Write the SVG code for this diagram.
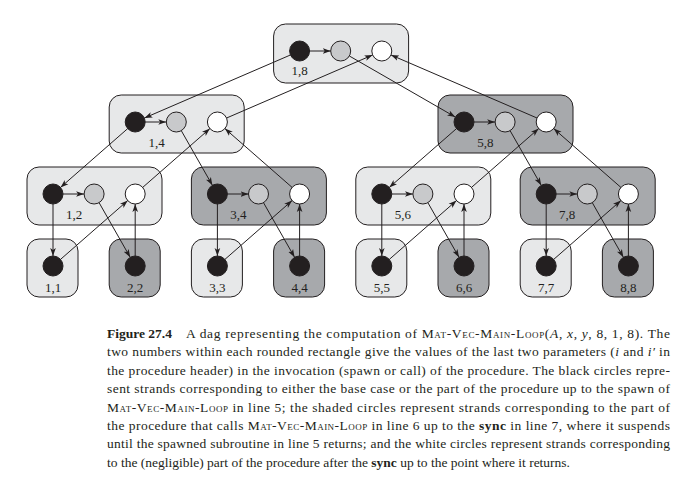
<svg xmlns="http://www.w3.org/2000/svg" width="679" height="486" viewBox="0 0 679 486">
<style>
.lt{fill:#e7e8e9;stroke:#231f20;stroke-width:1}
.dk{fill:#a7a9ac;stroke:#231f20;stroke-width:1}
.b{fill:#231f20;stroke:#231f20;stroke-width:1}
.g{fill:#c8c9cb;stroke:#231f20;stroke-width:1}
.w{fill:#ffffff;stroke:#231f20;stroke-width:1}
.lbl{font-family:"Liberation Serif","Times New Roman",serif;font-size:13px;fill:#231f20;text-anchor:middle}
.cap{font-family:"Liberation Serif","Times New Roman",serif;font-size:13.5px;fill:#231f20}
.e line{stroke:#231f20;stroke-width:1;marker-end:url(#ah)}
</style>
<defs>
<marker id="ah" viewBox="0 0 10 8" refX="10" refY="4" markerWidth="8" markerHeight="6.4" markerUnits="userSpaceOnUse" orient="auto">
<path d="M0,0.5 L10,4 L0,7.5 L2.5,4 z" fill="#231f20"/>
</marker>
</defs>
<g id="n18"><rect class="lt" x="273.6" y="24" width="135" height="59" rx="12"/><circle class="b" cx="299.6" cy="51" r="10"/><circle class="g" cx="340.7" cy="51" r="10"/><circle class="w" cx="381.8" cy="51" r="10"/><text class="lbl" x="299.6" y="75">1,8</text></g>
<g id="n14"><rect class="lt" x="109.2" y="95" width="135" height="58" rx="12"/><circle class="b" cx="135.2" cy="122" r="10"/><circle class="g" cx="176.3" cy="122" r="10"/><circle class="w" cx="217.4" cy="122" r="10"/><text class="lbl" x="156.5" y="147">1,4</text></g>
<g id="n58"><rect class="dk" x="438" y="95" width="135" height="58" rx="12"/><circle class="b" cx="464" cy="122" r="10"/><circle class="g" cx="505.1" cy="122" r="10"/><circle class="w" cx="546.2" cy="122" r="10"/><text class="lbl" x="485.3" y="147">5,8</text></g>
<g id="n12"><rect class="lt" x="27" y="167" width="135" height="58" rx="12"/><circle class="b" cx="53" cy="194" r="10"/><circle class="g" cx="94.1" cy="194" r="10"/><circle class="w" cx="135.2" cy="194" r="10"/><text class="lbl" x="74" y="219">1,2</text></g>
<g id="n34"><rect class="dk" x="191.4" y="167" width="135" height="58" rx="12"/><circle class="b" cx="217.4" cy="194" r="10"/><circle class="g" cx="258.5" cy="194" r="10"/><circle class="w" cx="299.6" cy="194" r="10"/><text class="lbl" x="238.4" y="219">3,4</text></g>
<g id="n56"><rect class="lt" x="355.8" y="167" width="135" height="58" rx="12"/><circle class="b" cx="381.8" cy="194" r="10"/><circle class="g" cx="422.9" cy="194" r="10"/><circle class="w" cx="464" cy="194" r="10"/><text class="lbl" x="402.8" y="219">5,6</text></g>
<g id="n78"><rect class="dk" x="520.2" y="167" width="135" height="58" rx="12"/><circle class="b" cx="546.2" cy="194" r="10"/><circle class="g" cx="587.3" cy="194" r="10"/><circle class="w" cx="628.4" cy="194" r="10"/><text class="lbl" x="567.2" y="219">7,8</text></g>
<g id="n11"><rect class="lt" x="27" y="239" width="51" height="58" rx="12"/><circle class="b" cx="53" cy="266" r="10"/><text class="lbl" x="53" y="292">1,1</text></g>
<g id="n22"><rect class="dk" x="109.2" y="239" width="51" height="58" rx="12"/><circle class="b" cx="135.2" cy="266" r="10"/><text class="lbl" x="135.2" y="292">2,2</text></g>
<g id="n33"><rect class="lt" x="191.4" y="239" width="51" height="58" rx="12"/><circle class="b" cx="217.4" cy="266" r="10"/><text class="lbl" x="217.4" y="292">3,3</text></g>
<g id="n44"><rect class="dk" x="273.6" y="239" width="51" height="58" rx="12"/><circle class="b" cx="299.6" cy="266" r="10"/><text class="lbl" x="299.6" y="292">4,4</text></g>
<g id="n55"><rect class="lt" x="355.8" y="239" width="51" height="58" rx="12"/><circle class="b" cx="381.8" cy="266" r="10"/><text class="lbl" x="381.8" y="292">5,5</text></g>
<g id="n66"><rect class="dk" x="438" y="239" width="51" height="58" rx="12"/><circle class="b" cx="464" cy="266" r="10"/><text class="lbl" x="464" y="292">6,6</text></g>
<g id="n77"><rect class="lt" x="520.2" y="239" width="51" height="58" rx="12"/><circle class="b" cx="546.2" cy="266" r="10"/><text class="lbl" x="546.2" y="292">7,7</text></g>
<g id="n88"><rect class="dk" x="602.4" y="239" width="51" height="58" rx="12"/><circle class="b" cx="628.4" cy="266" r="10"/><text class="lbl" x="628.4" y="292">8,8</text></g>
<g id="connectors" class="e">
<line x1="309.6" y1="51" x2="330.7" y2="51"/>
<line x1="290.4" y1="55" x2="144.4" y2="118"/>
<line x1="349.4" y1="56" x2="455.3" y2="117"/>
<line x1="226.6" y1="118" x2="372.6" y2="55"/>
<line x1="537" y1="118" x2="391" y2="55"/>
<line x1="145.2" y1="122" x2="166.3" y2="122"/>
<line x1="127.7" y1="128.6" x2="60.5" y2="187.4"/>
<line x1="181.3" y1="130.7" x2="212.4" y2="185.3"/>
<line x1="142.7" y1="187.4" x2="209.9" y2="128.6"/>
<line x1="292.1" y1="187.4" x2="224.9" y2="128.6"/>
<line x1="474" y1="122" x2="495.1" y2="122"/>
<line x1="456.5" y1="128.6" x2="389.3" y2="187.4"/>
<line x1="510.1" y1="130.7" x2="541.2" y2="185.3"/>
<line x1="471.5" y1="187.4" x2="538.7" y2="128.6"/>
<line x1="620.9" y1="187.4" x2="553.7" y2="128.6"/>
<line x1="63" y1="194" x2="84.1" y2="194"/>
<line x1="53" y1="204" x2="53" y2="256"/>
<line x1="99.1" y1="202.7" x2="130.2" y2="257.3"/>
<line x1="60.5" y1="259.4" x2="127.7" y2="200.6"/>
<line x1="135.2" y1="256" x2="135.2" y2="204"/>
<line x1="227.4" y1="194" x2="248.5" y2="194"/>
<line x1="217.4" y1="204" x2="217.4" y2="256"/>
<line x1="263.5" y1="202.7" x2="294.6" y2="257.3"/>
<line x1="224.9" y1="259.4" x2="292.1" y2="200.6"/>
<line x1="299.6" y1="256" x2="299.6" y2="204"/>
<line x1="391.8" y1="194" x2="412.9" y2="194"/>
<line x1="381.8" y1="204" x2="381.8" y2="256"/>
<line x1="427.9" y1="202.7" x2="459" y2="257.3"/>
<line x1="389.3" y1="259.4" x2="456.5" y2="200.6"/>
<line x1="464" y1="256" x2="464" y2="204"/>
<line x1="556.2" y1="194" x2="577.3" y2="194"/>
<line x1="546.2" y1="204" x2="546.2" y2="256"/>
<line x1="592.3" y1="202.7" x2="623.4" y2="257.3"/>
<line x1="553.7" y1="259.4" x2="620.9" y2="200.6"/>
<line x1="628.4" y1="256" x2="628.4" y2="204"/>
</g>
<g id="caption" class="cap">
<text x="107" y="338" font-weight="bold">Figure 27.4</text>
<text x="186" y="338" textLength="484" lengthAdjust="spacing">A dag representing the computation of <tspan font-variant="small-caps">Mat-Vec-Main-Loop</tspan>(<tspan font-style="italic">A</tspan>, <tspan font-style="italic">x</tspan>, <tspan font-style="italic">y</tspan>, 8, 1, 8). The</text>
<text x="107" y="356.4" textLength="563" lengthAdjust="spacing">two numbers within each rounded rectangle give the values of the last two parameters (<tspan font-style="italic">i</tspan> and <tspan font-style="italic">i′</tspan> in</text>
<text x="107" y="374.8" textLength="563" lengthAdjust="spacing">the procedure header) in the invocation (spawn or call) of the procedure.  The black circles repre-</text>
<text x="107" y="393.2" textLength="563" lengthAdjust="spacing">sent strands corresponding to either the base case or the part of the procedure up to the spawn of</text>
<text x="107" y="411.6" textLength="563" lengthAdjust="spacing"><tspan font-variant="small-caps">Mat-Vec-Main-Loop</tspan> in line 5; the shaded circles represent strands corresponding to the part of</text>
<text x="107" y="430" textLength="563" lengthAdjust="spacing">the procedure that calls <tspan font-variant="small-caps">Mat-Vec-Main-Loop</tspan> in line 6 up to the <tspan font-weight="bold">sync</tspan> in line 7, where it suspends</text>
<text x="107" y="448.4" textLength="563" lengthAdjust="spacing">until the spawned subroutine in line 5 returns; and the white circles represent strands corresponding</text>
<text x="107" y="466.8">to the (negligible) part of the procedure after the <tspan font-weight="bold">sync</tspan> up to the point where it returns.</text>
</g>
</svg>
